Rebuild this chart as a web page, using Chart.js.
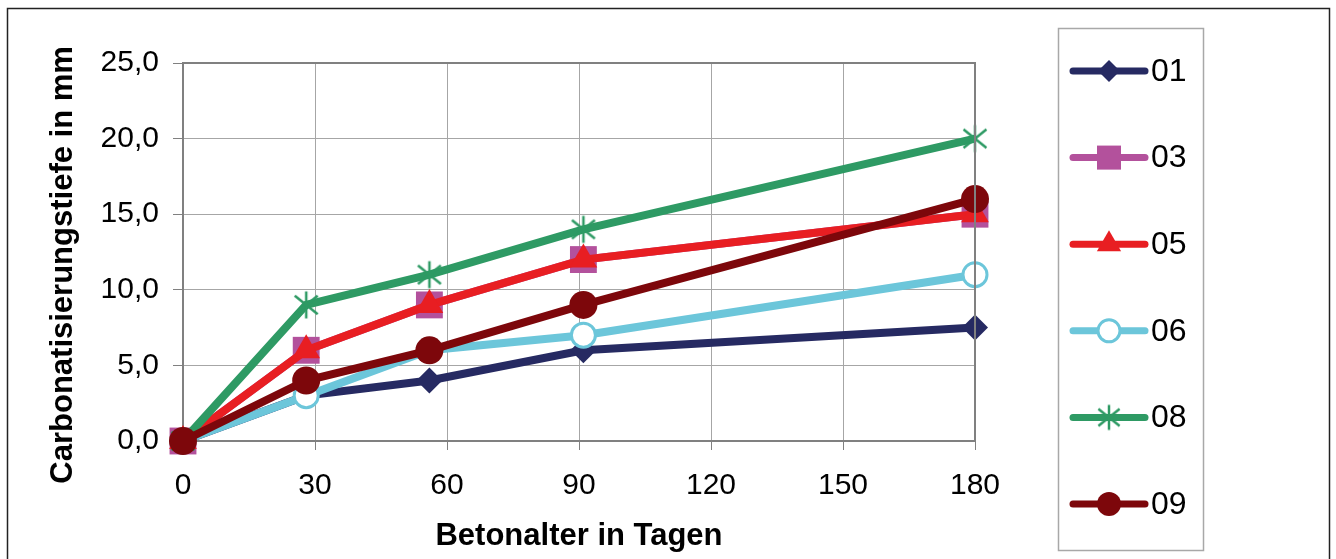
<!DOCTYPE html>
<html>
<head>
<meta charset="utf-8">
<script src="https://cdn.jsdelivr.net/npm/chart.js@4/dist/chart.umd.min.js"></script>
<style>
  html, body { margin: 0; padding: 0; background: #fff; }
  #wrap { width: 1336px; height: 559px; }
</style>
</head>
<body>
<div id="wrap"><canvas id="carb" width="1336" height="559"></canvas></div>
<script>
// Betonalter in Tagen
const days = [0, 28, 56, 91, 180];
const xTicks = [0, 30, 60, 90, 120, 150, 180];
const yTicks = [0, 5, 10, 15, 20, 25];

// Carbonatisierungstiefe in mm
const names = ['01', '03', '05', '06', '08', '09'];
const s01 = [0, 3, 4, 6, 7.5];
const s03 = [0, 6, 9, 12, 15];
const s05 = [0, 6, 9, 12, 15];
const s06 = [0, 3, 6, 7, 11];
const s08 = [0, 9, 11, 14, 20];
const s09 = [0, 4, 6, 9, 16];

// asterisk marker like excel (vertical + x)
function makeStar(size, color, lw) {
  const c = document.createElement('canvas');
  c.width = size; c.height = size;
  const g = c.getContext('2d');
  const m = size / 2, r = size / 2 - lw;
  g.strokeStyle = color;
  g.lineWidth = lw;
  g.beginPath();
  g.moveTo(m, m - r); g.lineTo(m, m + r);
  const d = r * 0.85;
  g.moveTo(m - d, m - d * 0.8); g.lineTo(m + d, m + d * 0.8);
  g.moveTo(m + d, m - d * 0.8); g.lineTo(m - d, m + d * 0.8);
  g.stroke();
  return c;
}

const styles = [
  { color: '#262a62', pointStyle: 'rectRot', radius: 13, fill: '#262a62', legendR: 11 },
  { color: '#b3519c', pointStyle: 'rect', radius: 19, fill: '#b3519c', legendR: 17 },
  { color: '#e81e22', pointStyle: 'triangle', radius: 16, fill: '#e81e22', legendR: 14 },
  { color: '#6cc6da', pointStyle: 'circle', radius: 12, fill: '#ffffff', legendR: 11, bw: 3 },
  { color: '#2e9a64', pointStyle: makeStar(32, '#2e9a64', 2.5), radius: 16, fill: '#2e9a64', legendStar: makeStar(30, '#2e9a64', 2.5) },
  { color: '#7d070b', pointStyle: 'circle', radius: 14, fill: '#7d070b', legendR: 12 }
];

const series = [s01, s03, s05, s06, s08, s09];

const datasets = series.map((vals, i) => ({
  label: names[i],
  data: days.map((d, j) => ({ x: d, y: vals[j] })),
  borderColor: styles[i].color,
  backgroundColor: styles[i].fill,
  borderWidth: 8,
  pointStyle: styles[i].pointStyle,
  pointRadius: styles[i].radius,
  pointBackgroundColor: styles[i].fill,
  pointBorderColor: styles[i].color,
  pointBorderWidth: styles[i].bw || 0,
  tension: 0,
  clip: false,
  order: series.length - i
}));

const framePlugin = {
  id: 'frame',
  beforeDraw(chart) {
    const ctx = chart.ctx;
    ctx.save();
    ctx.fillStyle = '#fff';
    ctx.fillRect(0, 0, chart.width, chart.height);
    ctx.strokeStyle = '#222';
    ctx.lineWidth = 1.5;
    ctx.strokeRect(7.5, 8.5, 1322, 600);
    ctx.restore();
  },
  afterDatasetsDraw(chart) {
    // plot area border on top/right
    const a = chart.chartArea;
    const ctx = chart.ctx;
    ctx.save();
    ctx.strokeStyle = '#808080';
    ctx.lineWidth = 2;
    ctx.beginPath();
    ctx.moveTo(a.left, a.top);
    ctx.lineTo(a.right, a.top);
    ctx.lineTo(a.right, a.bottom);
    ctx.stroke();
    ctx.restore();
  },
  afterDraw(chart) {
    const ctx = chart.ctx;
    ctx.save();
    ctx.strokeStyle = '#a8a8a8';
    ctx.lineWidth = 1.5;
    ctx.strokeRect(1058.5, 28.5, 145, 522);
    const x0 = 1073, x1 = 1145, xm = 1109;
    names.forEach((n, i) => {
      const y = 71 + i * 86.6;
      const st = styles[i];
      ctx.strokeStyle = st.color;
      ctx.lineWidth = 7;
      ctx.lineCap = 'round';
      ctx.beginPath();
      ctx.moveTo(x0, y); ctx.lineTo(x1, y);
      ctx.stroke();
      if (st.legendStar) {
        ctx.drawImage(st.legendStar, xm - 15, y - 15);
      } else {
        ctx.fillStyle = st.fill;
        ctx.strokeStyle = st.color;
        ctx.lineWidth = st.bw || 0;
        Chart.helpers.drawPoint(ctx, { pointStyle: st.pointStyle, radius: st.legendR, rotation: 0, borderWidth: st.bw || 0 }, xm, y);
      }
      ctx.fillStyle = '#000';
      ctx.font = '32px "Liberation Sans", Arial, sans-serif';
      ctx.textAlign = 'left';
      ctx.textBaseline = 'middle';
      ctx.fillText(n, 1151, y + 1);
    });
    ctx.restore();
  }
};

const font = { family: '"Liberation Sans", Arial, sans-serif', size: 30 };
const titleFont = { family: font.family, size: 31, weight: 'bold' };

new Chart(document.getElementById('carb'), {
  type: 'line',
  data: { datasets },
  plugins: [framePlugin],
  options: {
    responsive: false,
    animation: false,
    devicePixelRatio: 1,
    layout: { padding: { left: 0, right: 361, top: 63, bottom: 0 } },
    plugins: { legend: { display: false }, tooltip: { enabled: false } },
    scales: {
      x: {
        type: 'linear',
        min: 0, max: 180,
        afterBuildTicks: (s) => { s.ticks = xTicks.map(v => ({ value: v })); },
        afterFit: (s) => { s.height = 118; },
        grid: { color: '#a6a6a6', lineWidth: 1, tickLength: 9, tickColor: '#808080' },
        border: { color: '#808080', width: 2 },
        ticks: { color: '#000', font, padding: 18, maxRotation: 0 },
        title: {
          display: true, text: 'Betonalter in Tagen', color: '#000',
          font: titleFont,
          padding: { top: 0, bottom: 4 }
        }
      },
      y: {
        min: 0, max: 25,
        afterBuildTicks: (s) => { s.ticks = yTicks.map(v => ({ value: v })); },
        afterFit: (s) => { s.width = 183; },
        grid: { color: '#a6a6a6', lineWidth: 1, tickLength: 10, tickColor: '#808080' },
        border: { color: '#808080', width: 2 },
        ticks: {
          color: '#000', font, padding: 14,
          callback: (v) => v.toFixed(1).replace('.', ',')
        },
        title: {
          display: true, text: 'Carbonatisierungstiefe in mm   ', color: '#000',
          font: titleFont,
          padding: { top: 45, bottom: 0 }
        }
      }
    }
  }
});
</script>
</body>
</html>
